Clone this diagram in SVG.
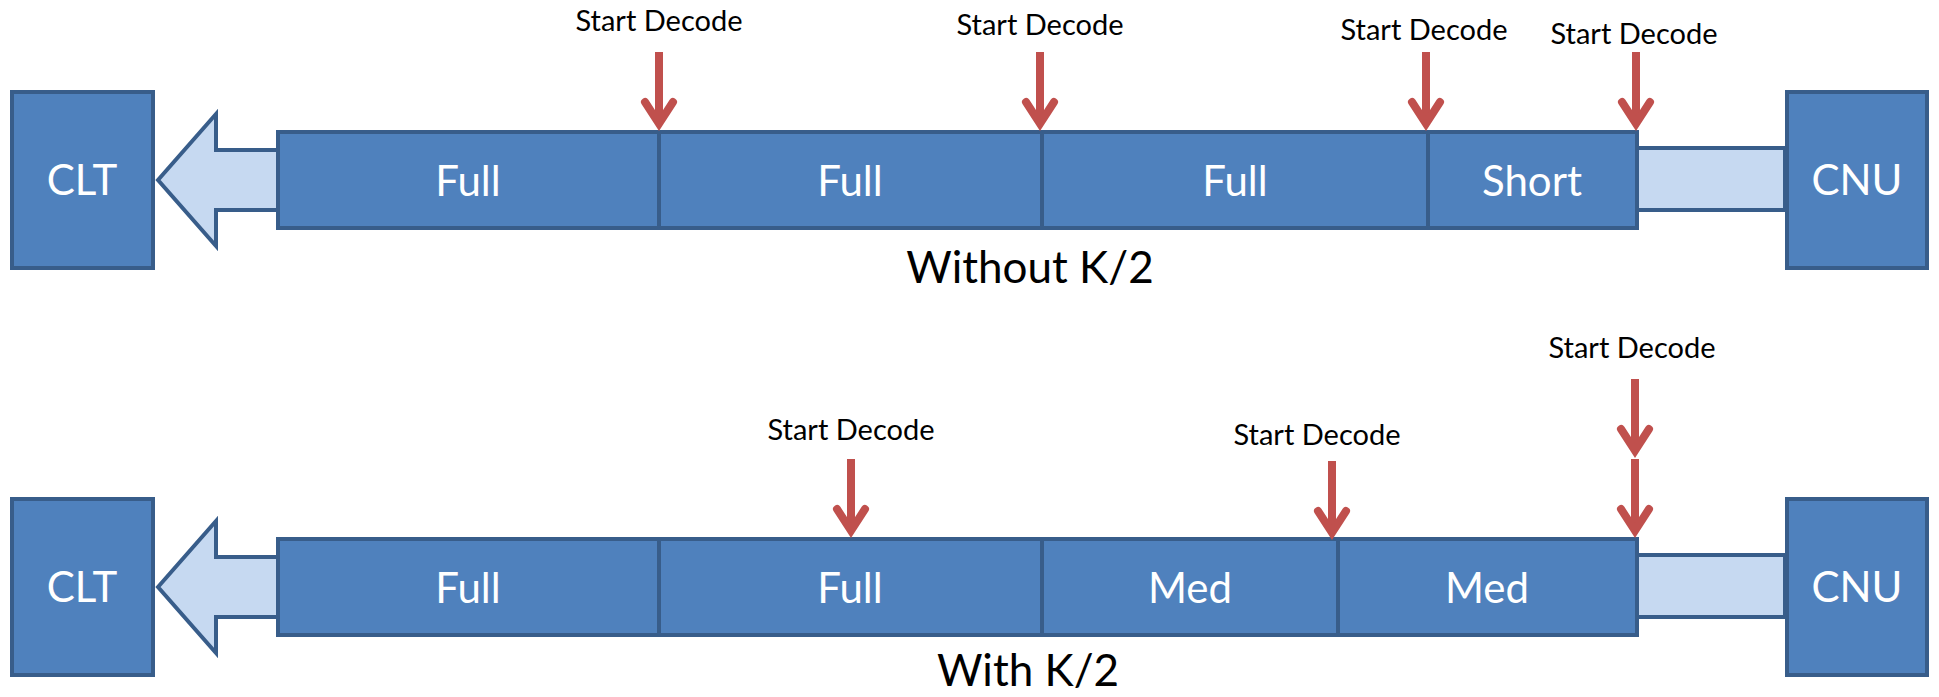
<svg xmlns="http://www.w3.org/2000/svg" xmlns:xlink="http://www.w3.org/1999/xlink" width="1939" height="697" viewBox="0 0 1939 697">
<style>
.blk{fill:#4F81BD;stroke:#385D8A;stroke-width:4}
.lite{fill:#C6D9F1;stroke:#385D8A;stroke-width:4}
.wt{fill:#FFFFFF;font-family:Lato,"Liberation Sans",sans-serif;font-size:42px;text-anchor:middle}
.lbl{fill:#000000;font-family:Lato,"Liberation Sans",sans-serif;font-size:29px;text-anchor:middle}
.cap{fill:#000000;font-family:Lato,"Liberation Sans",sans-serif;font-size:44px;text-anchor:middle}
.rs{fill:none;stroke:#C0504D;stroke-width:8}
</style>
<defs>
<g id="darr">
<path class="rs" d="M0,-79 V-9"/>
<path class="rs" d="M-14,-29 L0,-7.3 L14,-29" stroke-linecap="round" stroke-linejoin="miter"/>
</g>
</defs>
<rect width="1939" height="697" fill="#FFFFFF"/>

<g id="top-row">
<g id="top-flow-out">
<polygon class="lite" points="158,180 216,114 216,150 282,150 282,210 216,210 216,246"/>
</g>
<g id="top-flow-in">
<rect class="lite" x="1637" y="148" width="148" height="62"/>
</g>
<g id="top-clt">
<rect class="blk" x="12" y="92" width="141" height="176"/>
<text class="wt" x="82" y="195">CLT</text>
</g>
<g id="top-cnu">
<rect class="blk" x="1787" y="92" width="140" height="176"/>
<text class="wt" x="1857" y="195">CNU</text>
</g>
<g id="top-seg1">
<rect class="blk" x="278" y="132" width="381" height="96"/>
<text class="wt" x="468" y="196">Full</text>
</g>
<g id="top-seg2">
<rect class="blk" x="659" y="132" width="383" height="96"/>
<text class="wt" x="850" y="196">Full</text>
</g>
<g id="top-seg3">
<rect class="blk" x="1042" y="132" width="386" height="96"/>
<text class="wt" x="1235" y="196">Full</text>
</g>
<g id="top-seg4">
<rect class="blk" x="1428" y="132" width="209" height="96"/>
<text class="wt" x="1532" y="196">Short</text>
</g>
<text class="cap" x="1030" y="283">Without K/2</text>
</g>

<g id="bottom-row">
<g id="bot-flow-out">
<polygon class="lite" points="158,587 216,521 216,557 282,557 282,617 216,617 216,653"/>
</g>
<g id="bot-flow-in">
<rect class="lite" x="1637" y="555" width="148" height="62"/>
</g>
<g id="bot-clt">
<rect class="blk" x="12" y="499" width="141" height="176"/>
<text class="wt" x="82" y="602">CLT</text>
</g>
<g id="bot-cnu">
<rect class="blk" x="1787" y="499" width="140" height="176"/>
<text class="wt" x="1857" y="602">CNU</text>
</g>
<g id="bot-seg1">
<rect class="blk" x="278" y="539" width="381" height="96"/>
<text class="wt" x="468" y="603">Full</text>
</g>
<g id="bot-seg2">
<rect class="blk" x="659" y="539" width="383" height="96"/>
<text class="wt" x="850" y="603">Full</text>
</g>
<g id="bot-seg3">
<rect class="blk" x="1042" y="539" width="296" height="96"/>
<text class="wt" x="1190" y="603">Med</text>
</g>
<g id="bot-seg4">
<rect class="blk" x="1338" y="539" width="299" height="96"/>
<text class="wt" x="1487" y="603">Med</text>
</g>
<text class="cap" x="1028" y="686">With K/2</text>
</g>

<g id="connectors">
<text class="lbl" x="659" y="31">Start Decode</text>
<use xlink:href="#darr" x="659" y="131"/>
<text class="lbl" x="1040" y="35">Start Decode</text>
<use xlink:href="#darr" x="1040" y="131"/>
<text class="lbl" x="1424" y="40">Start Decode</text>
<use xlink:href="#darr" x="1426" y="131"/>
<text class="lbl" x="1634" y="44">Start Decode</text>
<use xlink:href="#darr" x="1636" y="131"/>

<text class="lbl" x="851" y="440">Start Decode</text>
<use xlink:href="#darr" x="851" y="538"/>
<text class="lbl" x="1317" y="445">Start Decode</text>
<use xlink:href="#darr" x="1332" y="540"/>
<text class="lbl" x="1632" y="358">Start Decode</text>
<use xlink:href="#darr" x="1635" y="458"/>
<use xlink:href="#darr" x="1635" y="538"/>
</g>
</svg>
